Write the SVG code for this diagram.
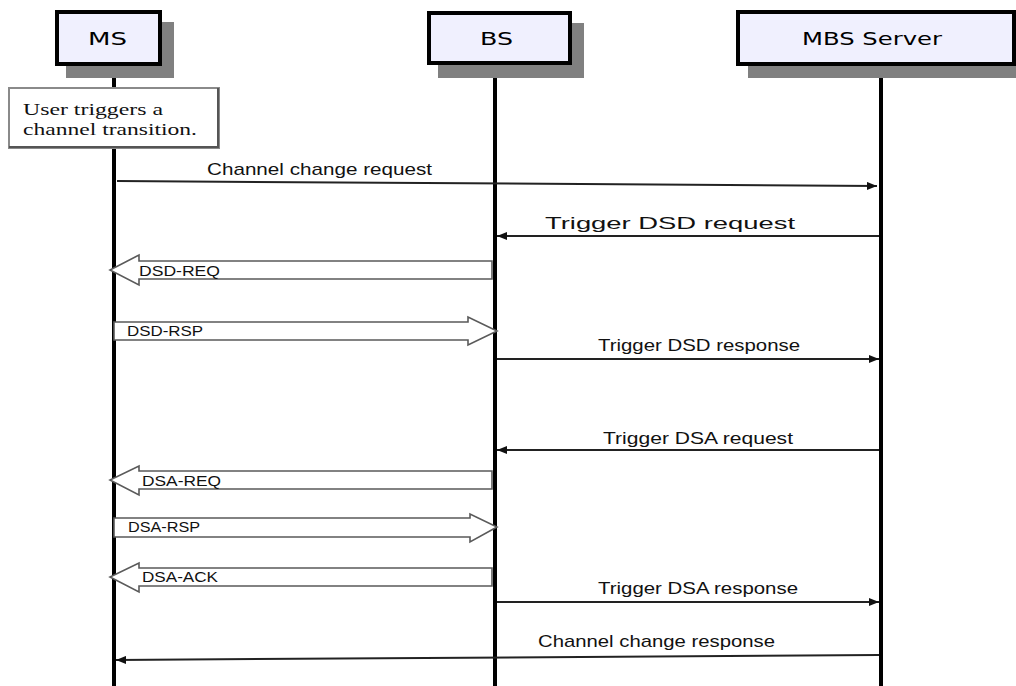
<svg xmlns="http://www.w3.org/2000/svg" width="1016" height="686" viewBox="0 0 1016 686">
<defs>
<style>
.hdr{fill:#f0f0fe;stroke:#000;stroke-width:4}
.shd{fill:#808080}
.life{stroke:#000;stroke-width:4}
.hlbl{font-family:"DejaVu Sans","Liberation Sans",sans-serif;font-size:18px;fill:#000}
.note{fill:#fff;stroke:#8a8a8a;stroke-width:2}
.ntxt{font-family:"Liberation Serif",serif;font-size:17px;fill:#111}
.msg{stroke:#222;stroke-width:2;fill:none}
.mlbl{font-family:"Liberation Sans",sans-serif;font-size:17px;fill:#111}
.fat{fill:#fff;stroke:#5a5a5a;stroke-width:1.6}
.flbl{font-family:"Liberation Sans",sans-serif;font-size:14px;fill:#111}
</style>
<marker id="ah" viewBox="0 0 10 8" refX="10" refY="4" markerWidth="10" markerHeight="8" markerUnits="userSpaceOnUse" orient="auto">
<path d="M0,0 L10,4 L0,8 Z" fill="#111"/>
</marker>
</defs>
<rect width="1016" height="686" fill="#fff"/>

<g id="lifelines">
<line class="life" x1="114" y1="66" x2="114" y2="686"/>
<line class="life" x1="495" y1="66" x2="495" y2="686"/>
<line class="life" x1="881" y1="78" x2="881" y2="686"/>
</g>

<g id="node-ms">
<rect class="shd" x="66" y="22" width="108" height="56"/>
<rect class="hdr" x="57" y="12" width="103" height="52"/>
<text class="hlbl" x="88" y="45" textLength="39" lengthAdjust="spacingAndGlyphs">MS</text>
</g>
<g id="node-bs">
<rect class="shd" x="438" y="23" width="146" height="55"/>
<rect class="hdr" x="429" y="13" width="141" height="50"/>
<text class="hlbl" x="480" y="45" textLength="33" lengthAdjust="spacingAndGlyphs">BS</text>
</g>
<g id="node-mbs">
<rect class="shd" x="748" y="22" width="280" height="56"/>
<rect class="hdr" x="738" y="12" width="276" height="52"/>
<text class="hlbl" x="802" y="45" textLength="140" lengthAdjust="spacingAndGlyphs">MBS Server</text>
</g>

<g id="note-user">
<rect class="note" x="9" y="88" width="210" height="60"/>
<line x1="9" y1="147" x2="219" y2="147" stroke="#555" stroke-width="2"/>
<line x1="218" y1="88" x2="218" y2="148" stroke="#555" stroke-width="2"/>
<text class="ntxt" x="23" y="115" textLength="140" lengthAdjust="spacingAndGlyphs">User triggers a</text>
<text class="ntxt" x="23" y="135" textLength="174" lengthAdjust="spacingAndGlyphs">channel transition.</text>
</g>

<g id="connectors">
<line class="msg" x1="117" y1="181" x2="877" y2="186" marker-end="url(#ah)"/>
<text class="mlbl" x="207" y="175" textLength="225" lengthAdjust="spacingAndGlyphs">Channel change request</text>

<line class="msg" x1="879" y1="236" x2="497" y2="236" marker-end="url(#ah)"/>
<text class="mlbl" x="545" y="229" textLength="250" lengthAdjust="spacingAndGlyphs">Trigger DSD request</text>

<polygon class="fat" points="492,261 139,261 139,255 110,270 139,285 139,279 492,279"/>
<text class="flbl" x="139" y="276" textLength="81" lengthAdjust="spacingAndGlyphs">DSD-REQ</text>

<polygon class="fat" points="114,322 468,322 468,317 497,331 468,345 468,340 114,340"/>
<text class="flbl" x="127" y="336" textLength="76" lengthAdjust="spacingAndGlyphs">DSD-RSP</text>

<line class="msg" x1="497" y1="359" x2="879" y2="359" marker-end="url(#ah)"/>
<text class="mlbl" x="598" y="351" textLength="202" lengthAdjust="spacingAndGlyphs">Trigger DSD response</text>

<line class="msg" x1="879" y1="450" x2="497" y2="450" marker-end="url(#ah)"/>
<text class="mlbl" x="603" y="444" textLength="190" lengthAdjust="spacingAndGlyphs">Trigger DSA request</text>

<polygon class="fat" points="492,471 139,471 139,466 110,480 139,495 139,489 492,489"/>
<text class="flbl" x="142" y="486" textLength="79" lengthAdjust="spacingAndGlyphs">DSA-REQ</text>

<polygon class="fat" points="114,518 470,518 470,514 497,527 470,542 470,537 114,537"/>
<text class="flbl" x="128" y="532" textLength="72" lengthAdjust="spacingAndGlyphs">DSA-RSP</text>

<polygon class="fat" points="492,568 139,568 139,563 110,577 139,592 139,586 492,586"/>
<text class="flbl" x="142" y="582" textLength="76" lengthAdjust="spacingAndGlyphs">DSA-ACK</text>

<line class="msg" x1="497" y1="602" x2="879" y2="602" marker-end="url(#ah)"/>
<text class="mlbl" x="598" y="594" textLength="200" lengthAdjust="spacingAndGlyphs">Trigger DSA response</text>

<line class="msg" x1="879" y1="655" x2="116" y2="660" marker-end="url(#ah)"/>
<text class="mlbl" x="538" y="647" textLength="237" lengthAdjust="spacingAndGlyphs">Channel change response</text>
</g>
</svg>
